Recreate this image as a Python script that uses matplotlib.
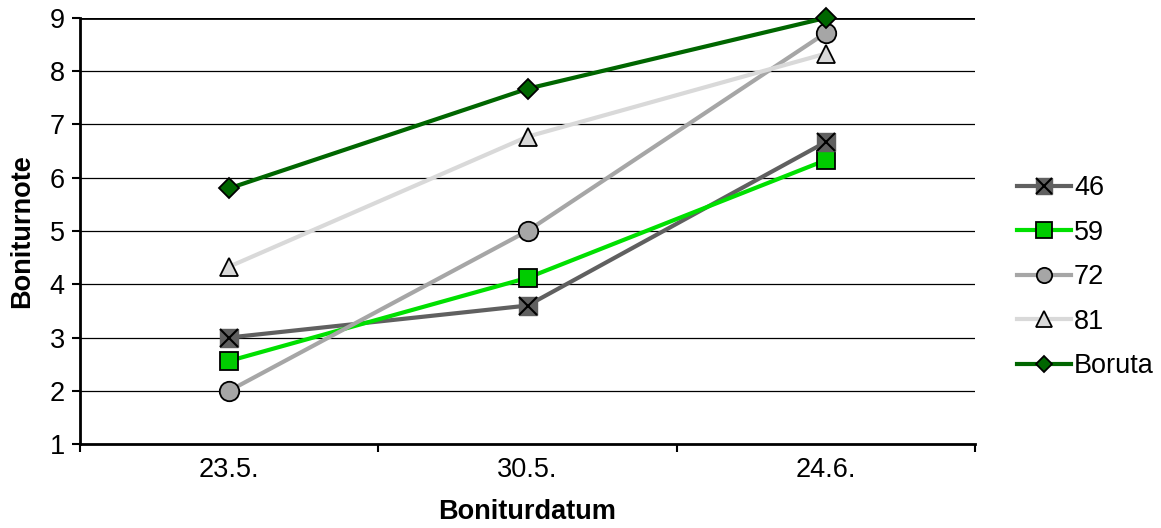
import matplotlib
matplotlib.use("Agg")
import matplotlib.pyplot as plt
from matplotlib.lines import Line2D

plt.rcParams['font.family'] = ['Liberation Sans', 'DejaVu Sans']

categories = ["23.5.", "30.5.", "24.6."]
series_names = ["46", "59", "72", "81", "Boruta"]
v46 = [3.0, 3.6, 6.67]
v59 = [2.56, 4.12, 6.33]
v72 = [2.0, 5.0, 8.72]
v81 = [4.33, 6.77, 8.33]
vboruta = [5.8, 7.67, 9.0]
yticks = [1, 2, 3, 4, 5, 6, 7, 8, 9]

FS = 19.5
fig = plt.figure(figsize=(11.61, 5.28), dpi=100)
ax = fig.add_axes([0.0689, 0.159, 0.7709, 0.8071])
x = list(range(len(categories)))

for yv in yticks[1:]:
    ax.axhline(yv, color='black', lw=0.9 if yv < 9 else 2.0, zorder=1)

lw = 3.0
# 46: grey square with X
ax.plot(x, v46, color='#606060', lw=lw, zorder=3)
ax.plot(x, v46, ls='none', marker='s', ms=13, mfc='#606060', mec='#606060', zorder=4)
ax.plot(x, v46, ls='none', marker='x', ms=13, mec='black', mew=1.5, zorder=5)
ax.plot(x, v59, color='#00E000', lw=lw, marker='s', ms=13, mfc='#00CC00', mec='black', mew=1.3, zorder=3)
ax.plot(x, v72, color='#A6A6A6', lw=lw, marker='o', ms=14, mfc='#A6A6A6', mec='black', mew=1.3, zorder=3)
ax.plot(x, v81, color='#D9D9D9', lw=lw, marker='^', ms=13, mfc='#D9D9D9', mec='black', mew=1.3, zorder=3)
ax.plot(x, vboruta, color='#006600', lw=lw, marker='D', ms=10, mfc='#006600', mec='black', mew=1.3, zorder=6, clip_on=False)

ax.set_xlim(-0.5, 2.5)
ax.set_ylim(1, 9)
ax.set_xticks(x)
ax.set_xticklabels(categories, fontsize=FS)
ax.set_xticks([-0.5, 0.5, 1.5, 2.5], minor=True)
ax.tick_params(axis='x', which='major', length=0, pad=9)
ax.tick_params(axis='x', which='minor', length=6, width=1.5, direction='out')
ax.set_yticks(yticks)
ax.set_yticklabels([str(t) for t in yticks], fontsize=FS)
ax.tick_params(axis='y', length=6, width=1.5, direction='out', pad=5)
for s in ['top', 'right']:
    ax.spines[s].set_visible(False)
ax.spines['left'].set_linewidth(2.0)
ax.spines['bottom'].set_linewidth(2.0)
ax.set_xlabel('Boniturdatum', fontsize=FS, fontweight='bold', labelpad=12)
ax.set_ylabel('Boniturnote', fontsize=FS, fontweight='bold', labelpad=10)

h46 = (Line2D([], [], color='#606060', lw=lw),
       Line2D([], [], ls='none', marker='s', ms=11, mfc='#606060', mec='#606060'),
       Line2D([], [], ls='none', marker='x', ms=11, mec='black', mew=1.5))
h59 = Line2D([], [], color='#00E000', lw=lw, marker='s', ms=11, mfc='#00CC00', mec='black', mew=1.3)
h72 = Line2D([], [], color='#A6A6A6', lw=lw, marker='o', ms=11, mfc='#A6A6A6', mec='black', mew=1.3)
h81 = Line2D([], [], color='#D9D9D9', lw=lw, marker='^', ms=11, mfc='#D9D9D9', mec='black', mew=1.3)
hb = Line2D([], [], color='#006600', lw=lw, marker='D', ms=8, mfc='#006600', mec='black', mew=1.3)
leg = fig.legend([h46, h59, h72, h81, hb], series_names, loc='center left',
                 bbox_to_anchor=(0.855, 0.475), frameon=False, fontsize=FS,
                 handlelength=2.0, handletextpad=0.1, labelspacing=0.68)

fig.savefig('out.png', dpi=100)
